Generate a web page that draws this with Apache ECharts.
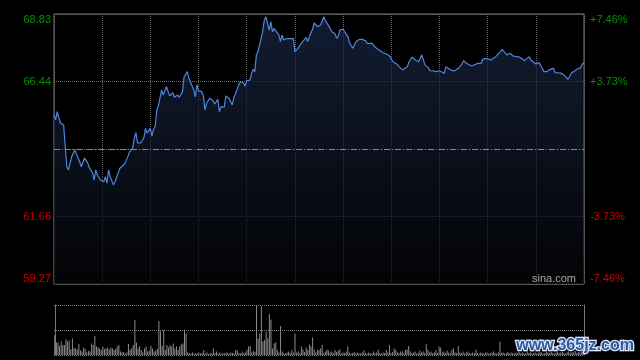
<!DOCTYPE html>
<html>
<head>
<meta charset="utf-8">
<style>html,body{margin:0;padding:0;background:#000;}#c{width:640px;height:360px;}</style>
<script src="https://cdn.jsdelivr.net/npm/echarts@6/dist/echarts.min.js"></script>
</head>
<body>
<div id="c"></div>
<script>
var prevClose = 64.05;
var priceTicks = ['59.27', '61.66', '', '66.44', '68.83'];
var pctTicks = ['-7.46%', '-3.73%', '', '+3.73%', '+7.46%'];
var tickColors = ['r', 'r', 'r', 'g', 'g'];

var minutes = [0,1,2,4,6,7,8,9,10,11,13,14,16,17,18,19,21,22,24,25,26,27,29,31,32,33,34,35,37,38,39,41,42,44,45,46,47,49,50,51,52,54,56,57,58,60,61,62,63,64,65,66,67,68,70,71,72,73,74,75,77,78,80,81,83,84,86,87,88,89,90,92,93,94,95,97,99,100,101,102,103,104,106,107,109,110,111,112,113,115,116,118,119,120,122,123,124,125,126,127,129,130,131,132,133,134,135,136,137,138,140,141,142,143,145,147,149,150,151,152,154,155,157,158,159,161,162,163,164,166,167,168,169,170,172,173,175,176,177,178,180,181,183,184,186,187,188,190,192,193,194,195,198,200,201,203,205,206,207,209,210,211,213,214,215,217,218,220,221,222,223,224,225,227,229,230,231,233,234,236,238,240,241,243,244,245,247,249,250,252,253,254,255,257,258,260,261,264,266,267,269,270,272,273,275,276,278,279,280,282,283,284,286,288,290,291,293,294,296,297,298,300,301,302,304,305,307,308,309,311,312,314,316,317,318,320,321,322,323,325,326,328,329,330];

var prices = [65.25,65.08,65.37,64.97,64.90,64.13,63.42,63.31,63.38,63.78,64.01,64.01,63.60,63.42,63.48,63.73,63.55,63.38,63.20,62.95,63.31,63.13,62.95,62.89,63.07,62.84,63.31,63.07,62.78,62.89,62.95,63.37,63.42,63.52,63.52,63.78,63.95,64.08,64.43,64.63,64.27,64.27,64.45,64.78,64.61,64.78,64.51,64.75,64.84,65.43,65.58,65.61,66.14,65.96,66.26,66.26,65.93,65.88,66.04,65.88,65.96,65.88,66.08,66.61,66.79,66.55,66.28,66.14,65.90,66.32,66.11,66.08,65.93,65.43,65.67,65.85,65.76,65.64,65.61,65.81,65.37,65.55,65.53,65.93,65.85,65.79,65.61,65.88,66.00,66.32,66.43,66.38,66.28,66.47,66.49,66.73,66.87,66.79,67.38,67.50,67.97,68.26,68.62,68.73,68.68,68.26,68.56,68.20,68.32,68.26,68.09,67.85,68.09,67.91,67.96,67.96,67.97,67.50,67.44,67.62,67.79,67.73,68.00,67.85,68.03,68.29,68.52,68.56,68.38,68.44,68.50,68.73,68.59,68.52,68.32,68.20,68.12,67.97,68.05,68.26,68.29,68.20,68.03,67.81,67.62,67.62,67.85,67.93,67.93,67.97,67.88,67.79,67.79,67.65,67.58,67.53,67.46,67.52,67.41,67.34,67.32,67.14,67.08,67.06,66.96,66.85,66.91,66.96,67.14,67.11,67.30,67.32,67.20,67.14,67.38,67.38,67.02,66.94,66.82,66.82,66.79,66.82,66.75,66.73,66.96,66.96,66.85,66.81,66.85,66.91,66.87,67.06,67.18,67.08,67.02,66.99,67.06,67.08,67.08,67.23,67.26,67.23,67.20,67.18,67.32,67.38,67.50,67.58,67.62,67.38,67.40,67.44,67.34,67.32,67.30,67.30,67.18,67.18,67.32,67.20,67.18,67.06,67.11,67.11,66.91,66.79,66.79,66.82,66.87,66.91,66.75,66.75,66.73,66.73,66.64,66.52,66.61,66.73,66.79,66.85,66.87,66.94,67.06,67.12];

var volumes = [
40,25,25,18,27,20,20,31,27,29,
11,33,14,13,11,22,9,7,15,12,
5,8,7,23,20,38,17,15,13,10,
17,12,13,15,11,15,13,10,12,17,
20,7,5,6,3,5,22,10,14,20,
70,25,13,18,10,5,13,17,7,9,
18,13,7,9,12,68,47,18,50,10,
20,15,20,17,23,13,17,10,17,21,
23,51,43,5,4,3,5,2,4,3,
5,3,4,10,3,5,2,4,3,13,
4,7,3,5,2,4,3,5,4,3,
5,4,3,10,9,4,3,7,4,5,
10,17,18,5,8,6,100,33,43,97,
27,30,47,33,82,71,13,23,25,10,
5,58,7,4,3,5,7,4,10,5,
43,5,7,4,17,11,6,15,10,21,
17,35,11,5,10,10,13,20,4,7,
11,9,5,7,4,10,6,9,11,3,
5,4,7,17,5,3,4,6,3,5,
4,3,5,9,4,3,5,4,3,7,
4,5,11,4,3,5,4,10,5,20,
4,6,13,10,5,4,7,7,4,10,
11,18,7,4,5,7,3,4,9,5,
7,4,22,10,5,7,4,5,10,4,
17,15,5,7,4,9,5,4,10,13,
5,4,18,5,4,7,3,5,7,4,
3,5,4,11,4,3,5,4,3,5,
5,3,4,5,7,4,3,5,27,4,
5,3,4,6,3,5,4,3,5,4,
6,3,5,4,3,7,4,5,3,4,
5,3,4,6,5,3,4,7,5,4,
6,4,3,5,7,4,5,6,4,3,
5,7,4,6,5,8,4,6,5,7,9];

var priceData = minutes.map(function (m, i) { return [m, prices[i]]; });
var volData = volumes.map(function (v, i) { return [i, v]; });

var gridColor = '#6a6a6a';
var dotted = { color: gridColor, type: [1, 1], width: 1 };
var labelRich = {
  g: { color: '#009000', fontSize: 11, fontFamily: 'Liberation Sans, Arial, sans-serif' },
  r: { color: '#d00000', fontSize: 11, fontFamily: 'Liberation Sans, Arial, sans-serif' }
};

var chart = echarts.init(document.getElementById('c'), null, { renderer: 'canvas' });
chart.setOption({
  backgroundColor: '#000000',
  animation: false,
  grid: [
    { left: 54, top: 14, width: 530, height: 270, show: true, borderColor: '#7a7a7a', borderWidth: 1, backgroundColor: 'transparent' },
    { left: 54, top: 305, width: 530, height: 50, show: false }
  ],
  xAxis: [
    { type: 'value', gridIndex: 0, min: 0, max: 330, interval: 30,
      axisLine: { show: false }, axisTick: { show: false }, axisLabel: { show: false },
      splitLine: { show: true, lineStyle: dotted } },
    { type: 'value', gridIndex: 1, min: -0.5, max: 330.5,
      axisLine: { show: false }, axisTick: { show: false }, axisLabel: { show: false },
      splitLine: { show: false } }
  ],
  yAxis: [
    { type: 'value', gridIndex: 0, position: 'left', min: 59.27, max: 68.83, interval: 2.39,
      axisLine: { show: false }, axisTick: { show: false },
      splitLine: { show: true, lineStyle: dotted },
      axisLabel: { margin: 3, rich: labelRich,
        verticalAlignMaxLabel: 'top', verticalAlignMinLabel: 'bottom',
        formatter: function (v, i) { return priceTicks[i] ? '{' + tickColors[i] + '|' + priceTicks[i] + '}' : ''; } } },
    { type: 'value', gridIndex: 0, position: 'right', min: 59.27, max: 68.83, interval: 2.39,
      axisLine: { show: false }, axisTick: { show: false }, splitLine: { show: false },
      axisLabel: { margin: 6, rich: labelRich,
        verticalAlignMaxLabel: 'top', verticalAlignMinLabel: 'bottom',
        formatter: function (v, i) { return pctTicks[i] ? '{' + tickColors[i] + '|' + pctTicks[i] + '}' : ''; } } },
    { type: 'value', gridIndex: 1, position: 'left', min: 0, max: 100, interval: 50,
      axisLine: { show: true, lineStyle: { color: '#7a7a7a' } }, axisTick: { show: false }, axisLabel: { show: false },
      splitLine: { show: true, lineStyle: { color: '#7a7a7a', type: [1, 1] } } },
    { type: 'value', gridIndex: 1, position: 'right', min: 0, max: 100, interval: 50,
      axisLine: { show: true, lineStyle: { color: '#7a7a7a' } }, axisTick: { show: false }, axisLabel: { show: false },
      splitLine: { show: false } }
  ],
  series: [
    { type: 'line', xAxisIndex: 0, yAxisIndex: 0, data: priceData, showSymbol: false, symbol: 'none',
      lineStyle: { color: '#4d86de', width: 1.2 },
      areaStyle: { origin: 'start', color: new echarts.graphic.LinearGradient(0, 0, 0, 1, [
        { offset: 0, color: '#1a2846' }, { offset: 1, color: '#040508' }]) },
      markLine: { silent: true, symbol: 'none', label: { show: false },
        lineStyle: { color: '#8a8a8a', type: [6, 2, 1, 2], width: 1 },
        data: [{ yAxis: prevClose }] },
      z: 3 },
    { type: 'bar', xAxisIndex: 1, yAxisIndex: 2, data: volData, barWidth: 1,
      itemStyle: { color: '#8c8c8c' }, barMinHeight: 1 }
  ],
  graphic: [
    { type: 'text', left: 532, top: 273, z: 10,
      style: { text: 'sina.com', fill: '#a8a8a8', font: '11px "Liberation Sans", Arial, sans-serif' } },
    { type: 'text', left: 515, top: 336, z: 20,
      style: { text: 'www.365jz.com', fill: '#2b5aa6', stroke: '#dce6f4', lineWidth: 2.5,
        font: 'bold 16px "Liberation Sans", Arial, sans-serif' } }
  ]
});
</script>
</body>
</html>
